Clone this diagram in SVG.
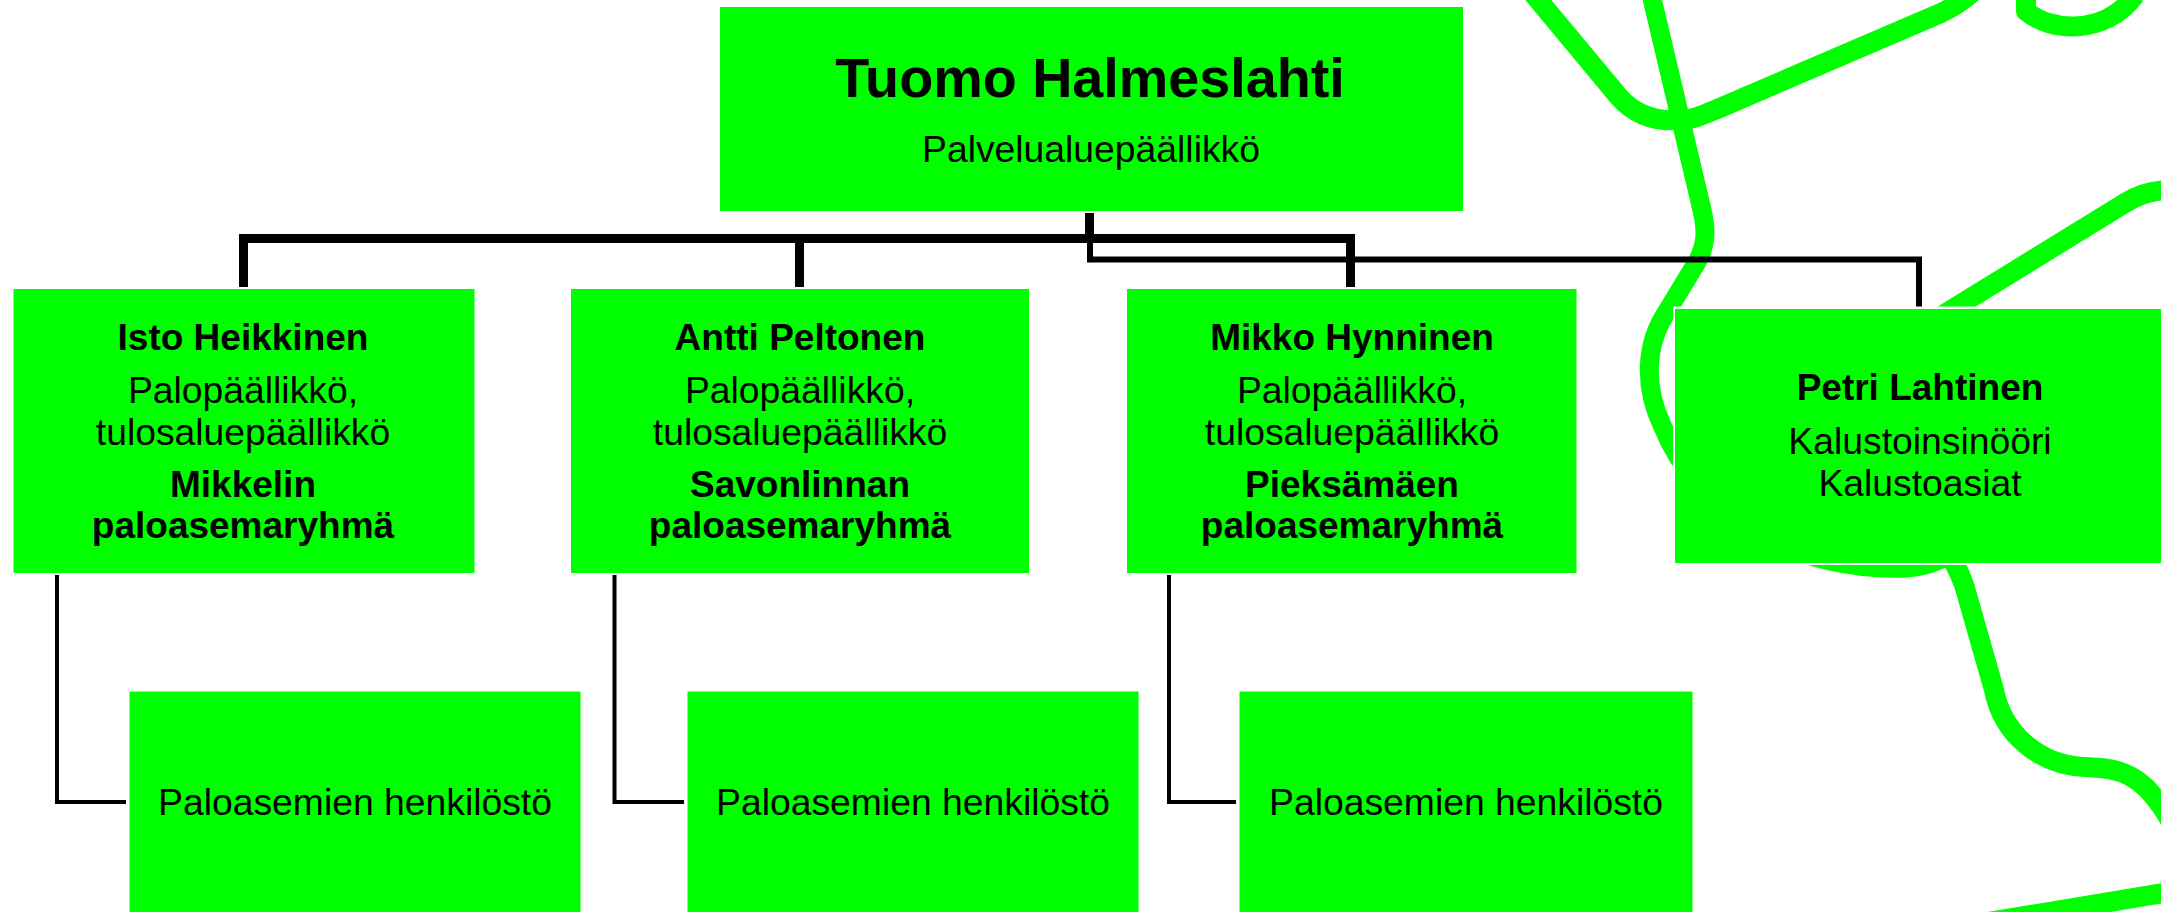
<svg xmlns="http://www.w3.org/2000/svg" width="2161" height="912" viewBox="0 0 2161 912">
<style>
.bg{fill:none;stroke:#00ff00;stroke-width:20;stroke-linecap:butt;stroke-linejoin:round}
.box{fill:#00ff00}
.thick{fill:none;stroke:#000;stroke-width:9;stroke-linejoin:miter}
.mid{fill:none;stroke:#000;stroke-width:6}
.thin{fill:none;stroke:#000;stroke-width:4}
text{font-family:"Liberation Sans",Arial,sans-serif;fill:#000;text-anchor:middle}
.t{font-size:37.300px}
.b{font-size:37px;font-weight:bold}
.h{font-size:55.700px;font-weight:bold}
</style>
<rect width="2161" height="912" fill="#fff"/>
<g id="background">
<path class="bg" d="M1530 -10 L1619 97 C1635 115 1655 122 1680 120 C1695 119 1700 116 1715 110 L1941 13 Q1960 4 1975 -10"/>
<path class="bg" style="stroke-width:19" d="M1650 -10 L1702 210 C1707 232 1706 245 1697 262 L1663 318 C1647 345 1643 385 1662 425 C1700 520 1800 572 1907 568 C1925 567 1945 560 1965 545"/>
<path class="bg" d="M1947 550 C1956 565 1963 578 1967 595 L1994 690 C2003 735 2040 765 2085 767 L2100 768 C2130 770 2150 785 2170 820"/>
<path class="bg" d="M1970 925 L2170 892"/>
<path class="bg" d="M1930 323 L2125 203 Q2145 190 2170 190"/>
<path class="bg" d="M2026 -5 L2026 11 C2050 32 2105 36 2135 -5"/>
</g>
<g id="connectors">
<path class="mid" d="M1090 213 V259.500 H1919 V307"/>
<path class="thick" d="M243.500 287 V238.500 H1350.500 V287"/>
<path class="thick" d="M799.500 238 V287"/>
<path class="thick" d="M1089.500 213 V240"/>
<path class="thin" d="M57 575 V802 H126"/>
<path class="thin" d="M614.500 575 V802 H684"/>
<path class="thin" d="M1169 575 V802 H1236"/>
</g>
<g id="n-tuomo"><rect class="box" x="720" y="7" width="743" height="204"/>
<text class="h" x="1090" y="97">Tuomo Halmeslahti</text>
<text class="t" x="1091" y="162">Palvelualuepäällikkö</text></g>
<g id="n-isto"><rect class="box" x="13.500" y="289" width="461" height="284"/>
<text class="b" x="243" y="350">Isto Heikkinen</text>
<text class="t" x="243" y="403">Palopäällikkö,</text>
<text class="t" x="243" y="445">tulosaluepäällikkö</text>
<text class="b" x="243" y="497">Mikkelin</text>
<text class="b" x="243" y="538">paloasemaryhmä</text></g>
<g id="n-antti"><rect class="box" x="571" y="289" width="458" height="284"/>
<text class="b" x="800" y="350">Antti Peltonen</text>
<text class="t" x="800" y="403">Palopäällikkö,</text>
<text class="t" x="800" y="445">tulosaluepäällikkö</text>
<text class="b" x="800" y="497">Savonlinnan</text>
<text class="b" x="800" y="538">paloasemaryhmä</text></g>
<g id="n-mikko"><rect class="box" x="1127" y="289" width="449.500" height="284"/>
<text class="b" x="1352" y="350">Mikko Hynninen</text>
<text class="t" x="1352" y="403">Palopäällikkö,</text>
<text class="t" x="1352" y="445">tulosaluepäällikkö</text>
<text class="b" x="1352" y="497">Pieksämäen</text>
<text class="b" x="1352" y="538">paloasemaryhmä</text></g>
<g id="n-petri"><rect x="1673" y="306.500" width="490" height="258.500" fill="#fff"/><rect class="box" x="1675" y="309" width="488" height="254"/>
<text class="b" x="1920" y="400">Petri Lahtinen</text>
<text class="t" x="1920" y="454">Kalustoinsinööri</text>
<text class="t" x="1920" y="496">Kalustoasiat</text></g>
<g id="n-h1"><rect class="box" x="129.500" y="691.500" width="451" height="221"/>
<text class="t" x="355" y="815">Paloasemien henkilöstö</text></g>
<g id="n-h2"><rect class="box" x="687.500" y="691.500" width="451" height="221"/>
<text class="t" x="913" y="815">Paloasemien henkilöstö</text></g>
<g id="n-h3"><rect class="box" x="1239.500" y="691.500" width="453" height="221"/>
<text class="t" x="1466" y="815">Paloasemien henkilöstö</text></g>
</svg>
